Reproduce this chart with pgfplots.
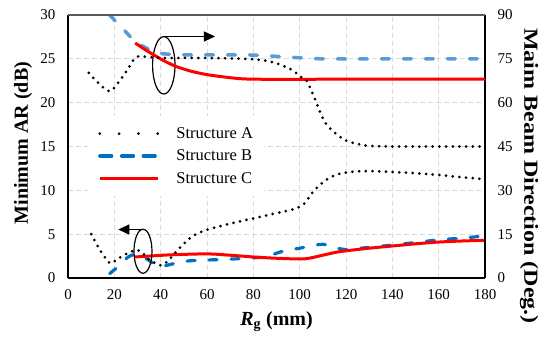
\documentclass[border=0pt]{standalone}
\usepackage{fontspec}
\setmainfont{Liberation Serif}
\usepackage{pgfplots}
\pgfplotsset{compat=1.18}
\usetikzlibrary{arrows.meta}
\definecolor{bluedark}{HTML}{0070C0}
\definecolor{bluelight}{HTML}{5B9BD5}
\definecolor{gridgray}{HTML}{D9D9D9}
\definecolor{framegray}{HTML}{595959}

\begin{document}
\begin{tikzpicture}
\useasboundingbox (0,0) rectangle (539bp,339bp);
\pgfplotsset{
  common/.style={
    at={(68bp,61bp)}, anchor=south west,
    scale only axis, width=417bp, height=263bp,
    xmin=0, xmax=180,
    major tick length=0pt,
    /pgf/number format/assume math mode=true,
    tick label style={font=\rmfamily\fontsize{15bp}{15bp}\selectfont},
  },
  dotA/.style={black, line width=3bp, line cap=round, dash pattern=on 0bp off 6.7bp},
}
\begin{axis}[common,
  ymin=0, ymax=30, ytick={0,5,...,30}, xtick={0,20,...,180},
  axis x line*=bottom, axis y line*=left,
  axis line style={line width=1.5bp, black},
  grid=major,
  major grid style={gridgray, line width=0.8bp, dash pattern=on 5bp off 3bp},
  yticklabel style={xshift=-9bp},
  xticklabel style={yshift=-8bp},
  xlabel={\textbf{\textit{R}\textsubscript{g} (mm)}},
  xlabel style={at={(axis description cs:0.5,-0.167)}, anchor=center, font=\rmfamily\fontsize{20bp}{20bp}\selectfont},
  ylabel={\textbf{Minimum AR (dB)}},
  ylabel style={at={(axis description cs:-0.108,0.513)}, anchor=center, font=\rmfamily\fontsize{20bp}{20bp}\selectfont},
  legend image code/.code={\draw[#1] (0bp,0bp) -- (58bp,0bp);},
  legend style={at={(axis description cs:0.048,0.615)}, anchor=north west,
    draw=none, fill=white, font=\rmfamily\fontsize{16.5bp}{16.5bp}\selectfont,
    inner xsep=10bp, inner ysep=10bp, row sep=8bp,
    nodes={inner sep=1bp},
    /tikz/every odd column/.append style={column sep=16bp}},
  legend cell align=left,
]
\addlegendimage{black, line width=3bp, line cap=round, dash pattern=on 0bp off 19.3bp}
\addlegendentry{Structure A}
\addlegendimage{bluedark, line width=3.2bp, line cap=round, dash pattern=on 12bp off 9.7bp}
\addlegendentry{Structure B}
\addlegendimage{red, line width=3.2bp}
\addlegendentry{Structure C}

% Structure B minimum AR
\addplot[forget plot, bluedark, line width=3.2bp, line cap=round, dash pattern=on 8bp off 14bp, smooth, tension=0.5] coordinates {
(18,0.5) (22,1.4) (26,2.4) (29,2.7) (32,2.5) (35,2.0) (38,1.45) (41,1.35) (45,1.6) (52,1.95) (60,2.05) (70,2.15) (80,2.3) (86,2.45) (92,3.0) (100,3.4) (106,3.7) (110,3.85) (115,3.5) (120,3.25) (130,3.5) (140,3.75) (150,4.05) (160,4.35) (170,4.55) (180,4.8)
};
% Structure C minimum AR
\addplot[forget plot, red, line width=3bp, smooth, tension=0.5] coordinates {
(29,2.4) (35,2.5) (45,2.65) (60,2.75) (70,2.6) (80,2.4) (90,2.25) (100,2.17) (104,2.25) (110,2.6) (116,2.95) (120,3.1) (130,3.4) (140,3.65) (150,3.9) (160,4.1) (170,4.22) (180,4.3)
};
% Structure A minimum AR
\addplot[forget plot, dotA, smooth, tension=0.5] coordinates {
(10,5.0) (14,3.1) (18,1.7) (20,1.9) (24,2.6) (29.5,3.2) (32,2.9) (35,2.1) (40,1.45) (43,1.9) (46,2.8) (50,3.9) (54,4.8) (60,5.5) (70,6.2) (80,6.8) (90,7.4) (98,7.9) (102,8.5) (106,9.9) (111,11.1) (116,11.8) (122,12.1) (130,12.2) (140,12.1) (150,11.95) (160,11.75) (170,11.5) (180,11.25)
};

% annotations
\draw[black, line width=1.2bp] (axis cs:41.35,24.26) ellipse [x radius=11.2bp, y radius=28.7bp];
\draw[black, line width=1.2bp, -{Triangle[length=11bp, width=10bp]}] (axis cs:41.35,27.55) -- (axis cs:63.45,27.55);
\draw[black, line width=1.2bp] (axis cs:32.37,3.05) ellipse [x radius=9bp, y radius=22bp];
\draw[black, line width=1.2bp, -{Triangle[length=11bp, width=10bp]}] (axis cs:32.37,5.53) -- (axis cs:21.7,5.53);
\end{axis}

\begin{axis}[common,
  ymin=0, ymax=90, ytick={0,15,...,90},
  axis y line*=right, axis x line=none,
  axis line style={line width=1.5bp, black},
  yticklabel style={xshift=9bp},
  ylabel={\textbf{\scalebox{1.2}[1]{Maim Beam Direction (Deg.)}}},
  every axis y label/.style={at={(axis description cs:1.1055,0.388)}, anchor=center, rotate=-90, font=\rmfamily\fontsize{20bp}{20bp}\selectfont},
]
% Structure B beam direction
\addplot[bluelight, line width=3.5bp, line cap=round, dash pattern=on 8bp off 14bp, smooth, tension=0.5] coordinates {
(18,90) (24,85) (29,81) (34,78.6) (38,77.1) (45,76.5) (54,76.35) (77,76.35) (91,75.8) (110,75) (140,75) (180,75)
};
% Structure C beam direction
\addplot[red, line width=3bp, smooth, tension=0.5] coordinates {
(29,80.4) (33,78.3) (37,76.35) (42,74.1) (47,72.3) (53,70.8) (60,69.6) (70,68.55) (77,68.1) (90,68.0) (130,68.05) (180,68.1)
};
% Structure A beam direction
\addplot[dotA, smooth, tension=0.5] coordinates {
(9,70.2) (13,66.8) (18,63.9) (22,67.2) (25.5,71.1) (29,75.3) (32,75.8) (40,75.3) (50,75.3) (60,75.3) (77,75.0) (85,74.4) (91,73.2) (97,71.1) (100,69) (103,67.5) (106.6,61.2) (110,54.6) (113,51.3) (117.4,48.3) (120.3,46.9) (125.3,45.8) (130.4,45.2) (140,45) (160,45) (180,45)
};
\end{axis}
\draw[framegray, line width=1.5bp] (68bp,324bp) -- (485bp,324bp);
\end{tikzpicture}
\end{document}
